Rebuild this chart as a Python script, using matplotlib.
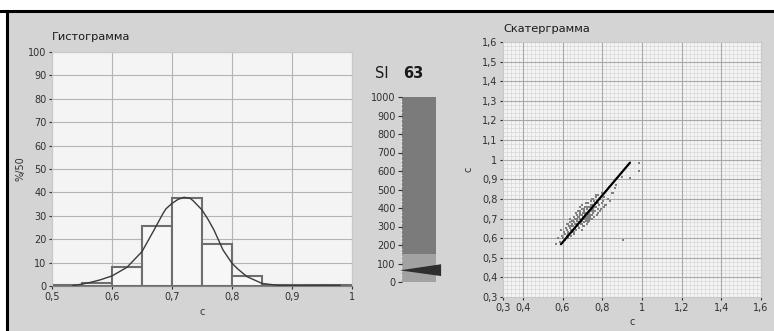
import numpy as np
import matplotlib
matplotlib.use("Agg")
from matplotlib import pyplot as plt
from matplotlib.patches import Rectangle, Polygon
from matplotlib.lines import Line2D
from matplotlib.ticker import MultipleLocator, FuncFormatter

# histogram bins (left edges) and heights, %/50
bin_left = [0.50, 0.55, 0.60, 0.65, 0.70, 0.75, 0.80, 0.85, 0.90, 0.95]
bin_height = [0.3, 1.4, 8.3, 25.6, 37.5, 17.8, 4.3, 0.3, 0.5, 0.3]
bin_width = 0.05

# fitted curve
curve_x = [0.535, 0.55, 0.565, 0.58, 0.60, 0.625, 0.65, 0.67, 0.685, 0.69, 0.70, 0.71,
           0.72, 0.73, 0.735, 0.75, 0.76, 0.77, 0.785, 0.80, 0.81, 0.825, 0.85, 0.875,
           0.90, 0.95, 0.98]
curve_y = [0.2, 0.8, 1.6, 2.6, 4.3, 8.0, 14.7, 23.9, 31.0, 33.0, 35.3, 37.0,
           37.9, 37.5, 36.5, 32.5, 28.5, 23.9, 15.4, 9.7, 7.2, 4.0, 1.1, 0.3,
           0.2, 0.3, 0.3]

# gauge
si_value = 63
gauge_max = 1000
gauge_zone = 150

# scatter cloud
sc_x = [0.565, 0.575, 0.585, 0.59, 0.595, 0.60, 0.605, 0.61, 0.612, 0.615, 0.62, 0.622,
        0.625, 0.628, 0.63, 0.632, 0.635, 0.638, 0.64, 0.642, 0.645, 0.648, 0.65, 0.652,
        0.655, 0.658, 0.66, 0.662, 0.665, 0.668, 0.67, 0.672, 0.675, 0.678, 0.68, 0.682,
        0.685, 0.688, 0.69, 0.692, 0.695, 0.698, 0.70, 0.702, 0.705, 0.708, 0.71, 0.712,
        0.715, 0.718, 0.72, 0.722, 0.725, 0.728, 0.73, 0.732, 0.735, 0.738, 0.74, 0.742,
        0.745, 0.748, 0.75, 0.752, 0.755, 0.758, 0.76, 0.762, 0.765, 0.768, 0.77, 0.772,
        0.775, 0.778, 0.78, 0.785, 0.79, 0.795, 0.80, 0.805, 0.81, 0.815, 0.82, 0.83,
        0.835, 0.84, 0.85, 0.856, 0.864, 0.906, 0.94, 0.983, 0.985, 0.87, 0.90,
        0.70, 0.71, 0.72, 0.73, 0.74, 0.715, 0.725, 0.695, 0.705, 0.735, 0.745, 0.755,
        0.76, 0.675, 0.685, 0.665, 0.655, 0.645, 0.69, 0.75, 0.77, 0.78, 0.72, 0.73, 0.70,
        0.68, 0.69, 0.70, 0.71, 0.72, 0.73, 0.74, 0.75, 0.66, 0.67, 0.68, 0.70, 0.72,
        0.74, 0.76, 0.78, 0.62, 0.64, 0.66, 0.80, 0.82, 0.71, 0.73, 0.69, 0.75, 0.77,
        0.65, 0.63, 0.79, 0.81]
sc_y = [0.57, 0.60, 0.58, 0.64, 0.61, 0.60, 0.63, 0.59, 0.62, 0.65, 0.61, 0.64,
        0.67, 0.60, 0.63, 0.66, 0.62, 0.68, 0.65, 0.61, 0.64, 0.67, 0.63, 0.69,
        0.66, 0.62, 0.68, 0.65, 0.70, 0.64, 0.67, 0.72, 0.69, 0.66, 0.71, 0.68,
        0.65, 0.73, 0.70, 0.67, 0.72, 0.75, 0.69, 0.66, 0.71, 0.74, 0.68, 0.72,
        0.76, 0.70, 0.73, 0.67, 0.75, 0.71, 0.78, 0.74, 0.69, 0.76, 0.72, 0.79,
        0.75, 0.70, 0.77, 0.73, 0.80, 0.76, 0.71, 0.78, 0.74, 0.81, 0.76, 0.72,
        0.79, 0.75, 0.82, 0.77, 0.80, 0.75, 0.83, 0.79, 0.81, 0.77, 0.84, 0.80,
        0.86, 0.79, 0.83, 0.83, 0.855, 0.591, 0.905, 0.94, 0.982, 0.87, 0.91,
        0.72, 0.70, 0.71, 0.72, 0.74, 0.73, 0.69, 0.68, 0.73, 0.73, 0.77, 0.75,
        0.79, 0.70, 0.71, 0.67, 0.64, 0.66, 0.74, 0.74, 0.78, 0.78, 0.76, 0.70, 0.67,
        0.74, 0.76, 0.77, 0.75, 0.69, 0.68, 0.71, 0.72, 0.71, 0.73, 0.66, 0.64, 0.78,
        0.70, 0.74, 0.73, 0.67, 0.70, 0.63, 0.78, 0.77, 0.66, 0.76, 0.72, 0.80, 0.82,
        0.69, 0.62, 0.74, 0.76]

# the dense black identity-like line
line_x = [0.592, 0.94]
line_y = [0.569, 0.985]

panel_bg = "#d4d4d4"
plot_bg = "#f4f4f4"
grid_col = "#b4b4b4"
txt_col = "#303030"

W, H = 774, 331
fig = plt.figure(figsize=(W / 100, H / 100), dpi=100, facecolor="white")

# panel background and black frame
fig.patches.append(Rectangle((8 / W, 0), 1, (H - 12) / H, transform=fig.transFigure,
                             facecolor=panel_bg, edgecolor="none", zorder=-10))
fig.lines.append(Line2D([0, 1], [(H - 11) / H] * 2, transform=fig.transFigure,
                        color="black", lw=2.2))
fig.lines.append(Line2D([7 / W] * 2, [0, (H - 11) / H], transform=fig.transFigure,
                        color="black", lw=2.2))


def fmt_comma(v, pos):
    s = f"{v:.1f}".rstrip("0").rstrip(".")
    return s.replace(".", ",")


def style_axes(ax):
    ax.set_facecolor(plot_bg)
    for s in ax.spines.values():
        s.set_color("#c8c8c8")
        s.set_linewidth(0.8)
    ax.tick_params(labelsize=7, colors=txt_col, length=2.5, width=0.8, pad=1.5)


# ---- histogram ----
ax1 = fig.add_axes([52 / W, 45 / H, 300 / W, 234 / H])
style_axes(ax1)
ax1.set_xlim(0.5, 1.0)
ax1.set_ylim(0, 100)
ax1.set_xticks(np.arange(0.5, 1.01, 0.1))
ax1.set_yticks(np.arange(0, 101, 10))
ax1.xaxis.set_major_formatter(FuncFormatter(fmt_comma))
ax1.grid(True, color=grid_col, lw=0.8)
ax1.set_axisbelow(True)
ax1.spines["bottom"].set_color("#808080")
ax1.bar(bin_left, bin_height, width=bin_width, align="edge", facecolor="#f7f7f7",
        edgecolor="#6e6e6e", linewidth=1.5, zorder=2)
ax1.plot(curve_x, curve_y, color="#3a3a3a", lw=1.0, zorder=3)
ax1.set_xlabel("c", fontsize=7, color=txt_col, labelpad=4)
ax1.set_ylabel("%/50", fontsize=7, color=txt_col, labelpad=2)
fig.text(52 / W, 1 - 37 / H, "Гистограмма", fontsize=8.2, color="#1a1a1a",
         va="center", ha="left")

# ---- gauge ----
ax2 = fig.add_axes([402 / W, 49 / H, 34 / W, 185 / H])
ax2.set_xlim(0, 1)
ax2.set_ylim(0, gauge_max)
ax2.add_patch(Rectangle((0, 0), 1, gauge_max, facecolor="#7b7b7b", edgecolor="none"))
ax2.add_patch(Rectangle((0, 0), 1, gauge_zone, facecolor="#a2a2a2", edgecolor="none"))
ax2.add_patch(Polygon([(-0.06, si_value), (1.15, si_value + 33), (1.15, si_value - 31)],
                      closed=True, facecolor="#2e2e2e", edgecolor="none",
                      clip_on=False, zorder=5))
for s in ax2.spines.values():
    s.set_visible(False)
ax2.set_xticks([])
ax2.set_yticks(np.arange(0, gauge_max + 1, 100))
ax2.yaxis.set_minor_locator(MultipleLocator(20))
ax2.tick_params(axis="y", which="major", labelsize=7, colors=txt_col, length=3,
                width=0.8, pad=1.5)
ax2.tick_params(axis="y", which="minor", length=1.2, width=0.6, colors="#e8e8e8")
fig.text(382 / W, 1 - 73 / H, "SI", fontsize=10.5, color="#1a1a1a", ha="center", va="center")
fig.text(413 / W, 1 - 73 / H, str(si_value), fontsize=10.5, fontweight="bold",
         color="#1a1a1a", ha="center", va="center")

# ---- scatter ----
ax3 = fig.add_axes([503 / W, 34 / H, 258 / W, 255 / H])
style_axes(ax3)
ax3.set_xlim(0.3, 1.6)
ax3.set_ylim(0.3, 1.6)
ax3.set_xticks([0.3, 0.4, 0.6, 0.8, 1.0, 1.2, 1.4, 1.6])
ax3.set_yticks(np.arange(0.3, 1.61, 0.1))
ax3.xaxis.set_major_formatter(FuncFormatter(fmt_comma))
ax3.yaxis.set_major_formatter(FuncFormatter(fmt_comma))
ax3.xaxis.set_minor_locator(MultipleLocator(0.02))
ax3.yaxis.set_minor_locator(MultipleLocator(0.02))
ax3.tick_params(which="minor", length=0)
ax3.grid(True, which="minor", color="#dcdcdc", lw=0.6)
for gx in np.arange(0.4, 1.41, 0.2):
    ax3.axvline(gx, color="#a8a8a8", lw=0.8, zorder=1)
for gy in np.arange(0.4, 1.51, 0.1):
    ax3.axhline(gy, color="#a8a8a8", lw=0.8, zorder=1)
ax3.set_axisbelow(True)
ax3.scatter(sc_x, sc_y, s=4, color="#808080", marker="s", linewidths=0, zorder=3)
ax3.plot(line_x, line_y, color="black", lw=1.6, zorder=4, solid_capstyle="round")
ax3.set_xlabel("c", fontsize=7, color=txt_col, labelpad=3)
ax3.set_ylabel("c", fontsize=7, color=txt_col, labelpad=6)
fig.text(503 / W, 1 - 29 / H, "Скатерграмма", fontsize=8.2, color="#1a1a1a",
         va="center", ha="left")

fig.savefig("out.png", dpi=100, facecolor=fig.get_facecolor())
